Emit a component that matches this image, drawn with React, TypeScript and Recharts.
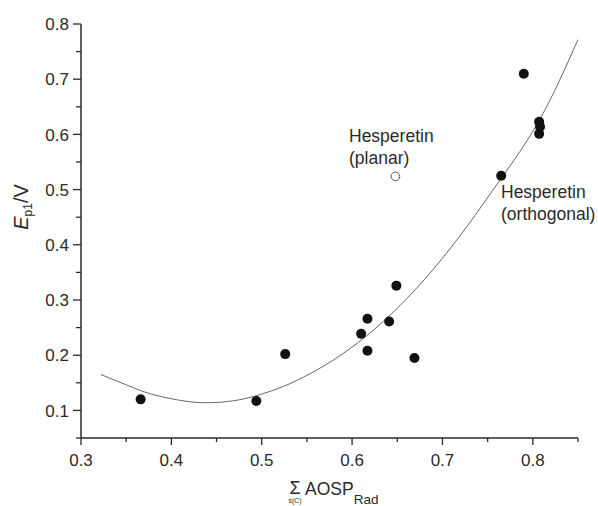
import React from "react";
import { ComposedChart, Line, Scatter, XAxis, YAxis } from "recharts";

// measured compounds (filled dots)
const pointX = [0.366, 0.494, 0.526, 0.61, 0.617, 0.617, 0.641, 0.649, 0.669, 0.765, 0.79, 0.807, 0.808, 0.807];
const pointY = [0.12, 0.117, 0.202, 0.239, 0.266, 0.208, 0.261, 0.326, 0.195, 0.525, 0.71, 0.623, 0.614, 0.601];

// hesperetin planar (open dot)
const openX = [0.648];
const openY = [0.524];

// fitted curve
const curveX = [0.322, 0.352, 0.377, 0.407, 0.434, 0.462, 0.488, 0.517, 0.546, 0.58, 0.616, 0.653, 0.69, 0.727, 0.764, 0.808, 0.85];
const curveY = [0.165, 0.145, 0.13, 0.119, 0.114, 0.116, 0.124, 0.139, 0.16, 0.192, 0.235, 0.29, 0.356, 0.433, 0.518, 0.628, 0.772];

const xTicks = [0.3, 0.35, 0.4, 0.45, 0.5, 0.55, 0.6, 0.65, 0.7, 0.75, 0.8, 0.85];
const yTicks = [0.05, 0.1, 0.15, 0.2, 0.25, 0.3, 0.35, 0.4, 0.45, 0.5, 0.55, 0.6, 0.65, 0.7, 0.75, 0.8];

const points = pointX.map((x, i) => ({ x, y: pointY[i] }));
const open = openX.map((x, i) => ({ x, y: openY[i] }));
const curve = curveX.map((x, i) => ({ x, y: curveY[i] }));

const INK = "#2a2a2a";
const FONT = "'Liberation Sans', Arial, sans-serif";

const isMajor = (v: number) => Math.abs(v * 10 - Math.round(v * 10)) < 1e-6;

function XTick({ x, y, payload }: any) {
  const major = isMajor(payload.value);
  return (
    <g>
      <line x1={x} x2={x} y1={y} y2={y + (major ? 7 : 4)} stroke={INK} strokeWidth={1.3} />
      {major && (
        <text x={x} y={y + 28} textAnchor="middle" fontSize={17} fill={INK} fontFamily={FONT}>
          {payload.value.toFixed(1)}
        </text>
      )}
    </g>
  );
}

function YTick({ x, y, payload }: any) {
  const major = isMajor(payload.value);
  return (
    <g>
      <line x1={x} x2={x - (major ? 8 : 5)} y1={y} y2={y} stroke={INK} strokeWidth={1.3} />
      {major && (
        <text x={x - 12} y={y} dy="0.36em" textAnchor="end" fontSize={17} fill={INK} fontFamily={FONT}>
          {payload.value.toFixed(1)}
        </text>
      )}
    </g>
  );
}

const OpenDot = (props: any) => (
  <circle cx={props.cx} cy={props.cy} r={4.3} fill="#fff" stroke="#555" strokeWidth={1} />
);
const FilledDot = (props: any) => <circle cx={props.cx} cy={props.cy} r={5} fill="#111" />;

export default function App() {
  return (
    <div>
      <style>{"body{margin:0}"}</style>
      <ComposedChart
        width={598}
        height={506}
        margin={{ top: 24, right: 20, left: 21, bottom: 8 }}
        style={{ fontFamily: FONT, background: "#fff" }}
      >
        <XAxis
          type="number"
          dataKey="x"
          domain={[0.3, 0.85]}
          ticks={xTicks}
          interval={0}
          height={60}
          tickSize={0}
          tickMargin={0}
          tickLine={false}
          tick={<XTick />}
          axisLine={{ stroke: INK, strokeWidth: 1.5 }}
          allowDataOverflow
        />
        <YAxis
          type="number"
          dataKey="y"
          domain={[0.05, 0.8]}
          ticks={yTicks}
          interval={0}
          width={60}
          tickSize={0}
          tickMargin={0}
          tickLine={false}
          tick={<YTick />}
          axisLine={{ stroke: INK, strokeWidth: 1.5 }}
          allowDataOverflow
        />
        <Line
          data={curve}
          dataKey="y"
          type="natural"
          stroke="#666"
          strokeWidth={1}
          dot={false}
          activeDot={false}
          isAnimationActive={false}
        />
        <Scatter data={points} dataKey="y" shape={<FilledDot />} isAnimationActive={false} />
        <Scatter data={open} dataKey="y" shape={<OpenDot />} isAnimationActive={false} />

        <text fontFamily={FONT} fontSize={17.5} fill={INK}>
          <tspan x={349} y={142}>Hesperetin</tspan>
          <tspan x={349} y={164}>(planar)</tspan>
        </text>
        <text fontFamily={FONT} fontSize={17.5} fill={INK}>
          <tspan x={501} y={198}>Hesperetin</tspan>
          <tspan x={501} y={220}>(orthogonal)</tspan>
        </text>

        <text transform="translate(28,207) rotate(-90)" textAnchor="middle" fontFamily={FONT} fontSize={20} fill={INK}>
          <tspan fontStyle="italic">E</tspan>
          <tspan fontSize={12} dy={4}>p1</tspan>
          <tspan dy={-4}>/V</tspan>
        </text>

        <text x={295} y={494} textAnchor="middle" fontFamily={FONT} fontSize={18} fill={INK}>Σ</text>
        <text x={295} y={503} textAnchor="middle" fontFamily={FONT} fontSize={7} fill={INK}>s(C)</text>
        <text fontFamily={FONT} fill={INK}>
          <tspan x={305} y={495} fontSize={17.5}>AOSP</tspan>
          <tspan fontSize={13.5} dy={9}>Rad</tspan>
        </text>
      </ComposedChart>
    </div>
  );
}
